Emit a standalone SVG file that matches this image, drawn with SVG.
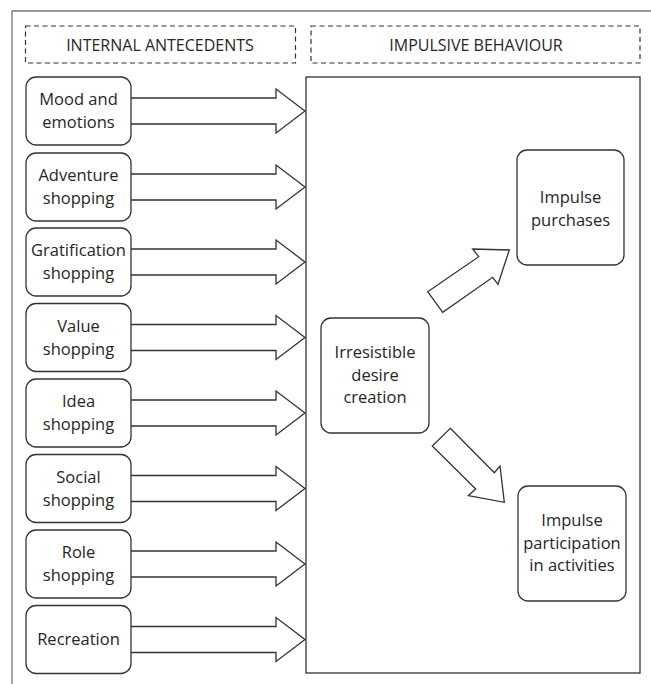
<svg xmlns="http://www.w3.org/2000/svg" width="651" height="684" viewBox="0 0 651 684">
<style>
.frame{fill:none;stroke:#777;stroke-width:1.3}
.dash{fill:none;stroke:#333;stroke-width:1.2;stroke-dasharray:5 3.5}
.node{fill:#fff;stroke:#333;stroke-width:1.3}
.arr{fill:#fff;stroke:#333;stroke-width:1.3;stroke-linejoin:miter}
.t{font-family:"Open Sans","Liberation Sans",sans-serif;font-size:16.5px;fill:#262626;text-anchor:middle}
.h{font-family:"Open Sans","Liberation Sans",sans-serif;font-size:16px;fill:#262626;text-anchor:middle}
</style>
<rect width="651" height="684" fill="#fff"/>
<path class="frame" d="M12,684 V11 H651"/>
<g id="hdr-internal"><rect class="dash" x="25.5" y="26" width="270" height="37"/><text class="h" x="160" y="51">INTERNAL ANTECEDENTS</text></g>
<g id="hdr-impulsive"><rect class="dash" x="311" y="26" width="329" height="37"/><text class="h" x="476" y="51">IMPULSIVE BEHAVIOUR</text></g>
<g id="behaviour-box"><rect x="306" y="77" width="334" height="596" fill="none" stroke="#333" stroke-width="1.3"/></g>
<g id="connectors">
<path class="arr" d="M131,98 H276 V89 L305,111 L276,133 V124 H131"/>
<path class="arr" d="M131,174 H276 V165 L305,187 L276,209 V200 H131"/>
<path class="arr" d="M131,249 H276 V240 L305,262 L276,284 V275 H131"/>
<path class="arr" d="M131,324.5 H276 V315.5 L305,337.5 L276,359.5 V350.5 H131"/>
<path class="arr" d="M131,400 H276 V391 L305,413 L276,435 V426 H131"/>
<path class="arr" d="M131,475.5 H276 V466.5 L305,488.5 L276,510.5 V501.5 H131"/>
<path class="arr" d="M131,551 H276 V542 L305,564 L276,586 V577 H131"/>
<path class="arr" d="M131,626.5 H276 V617.5 L305,639.5 L276,661.5 V652.5 H131"/>
<polygon class="arr" points="427.7,291.7 478.7,256.7 472.7,249 509.3,250 498,284.3 492.7,277.3 442.7,312.3"/>
<polygon class="arr" points="450.3,428.3 494.3,472.7 500,466 504.3,502.3 468.3,495.7 475.7,489 432.3,446"/>
</g>
<g id="n-mood"><rect class="node" x="26" y="77" width="105" height="68" rx="10"/><text class="t" x="78.5" y="105">Mood and</text><text class="t" x="78.5" y="128">emotions</text></g>
<g id="n-adventure"><rect class="node" x="26" y="153" width="105" height="68" rx="10"/><text class="t" x="78.5" y="181">Adventure</text><text class="t" x="78.5" y="204">shopping</text></g>
<g id="n-gratification"><rect class="node" x="26" y="228" width="105" height="68" rx="10"/><text class="t" x="78.5" y="256">Gratification</text><text class="t" x="78.5" y="279">shopping</text></g>
<g id="n-value"><rect class="node" x="26" y="303.5" width="105" height="68" rx="10"/><text class="t" x="78.5" y="331.5">Value</text><text class="t" x="78.5" y="354.5">shopping</text></g>
<g id="n-idea"><rect class="node" x="26" y="379" width="105" height="68" rx="10"/><text class="t" x="78.5" y="407">Idea</text><text class="t" x="78.5" y="430">shopping</text></g>
<g id="n-social"><rect class="node" x="26" y="454.5" width="105" height="68" rx="10"/><text class="t" x="78.5" y="482.5">Social</text><text class="t" x="78.5" y="505.5">shopping</text></g>
<g id="n-role"><rect class="node" x="26" y="530" width="105" height="68" rx="10"/><text class="t" x="78.5" y="558">Role</text><text class="t" x="78.5" y="581">shopping</text></g>
<g id="n-recreation"><rect class="node" x="26" y="605.5" width="105" height="68" rx="10"/><text class="t" x="78.5" y="645">Recreation</text></g>
<g id="n-desire"><rect class="node" x="321" y="318" width="108" height="115" rx="10"/><text class="t" x="375" y="358">Irresistible</text><text class="t" x="375" y="380.5">desire</text><text class="t" x="375" y="403">creation</text></g>
<g id="n-purchases"><rect class="node" x="517" y="150" width="107" height="115" rx="10"/><text class="t" x="570.5" y="203">Impulse</text><text class="t" x="570.5" y="225.5">purchases</text></g>
<g id="n-participation"><rect class="node" x="518" y="486" width="108" height="115" rx="10"/><text class="t" x="572" y="526">Impulse</text><text class="t" x="572" y="548.5">participation</text><text class="t" x="572" y="571">in activities</text></g>
</svg>
